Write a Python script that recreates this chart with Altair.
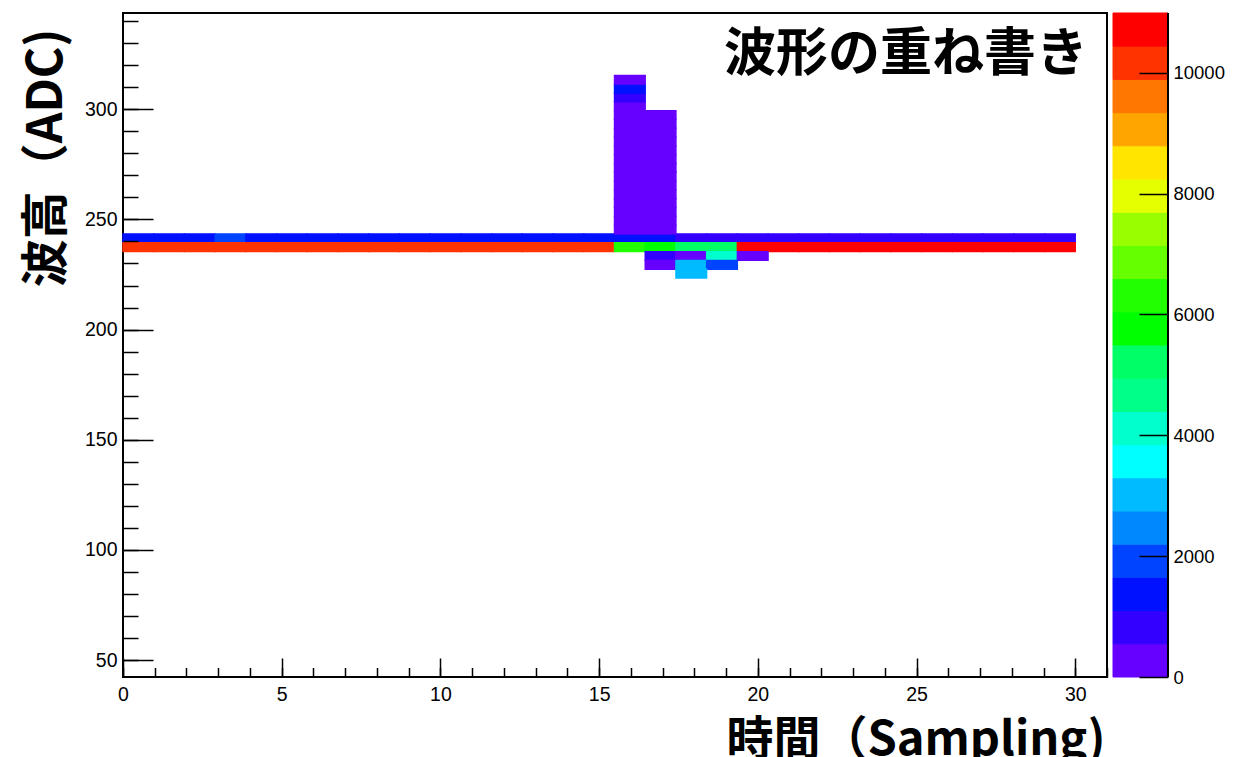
import altair as alt
import pandas as pd

# ---- histogram binning ----
X_BINS = 31
X_LO, X_HI = 0.0, 30.0
Y_BIN_W = 4.0
Z_MAX = 10990
X_DOMAIN = [0, 31]
Y_DOMAIN = [42.3, 343.7]

# ROOT rainbow palette, low -> high (20 contour levels)
PALETTE = ["#6600ff", "#3300ff", "#0011ff", "#0044ff", "#0088ff", "#00bbff",
           "#00ffff", "#00ffcc", "#00ff88", "#00ff66", "#00ff00", "#22ff00",
           "#66ff00", "#99ff00", "#e5ff00", "#ffe500", "#ffa500", "#ff7700",
           "#ff3300", "#ff0000"]

# ---- full-width baseline rows: lower y edge and contents per x bin ----
ROW_YLOW = [239.4, 235.4]
ROW_UPPER = [1400, 1400, 1400, 1900, 1400, 1400, 1400, 1400, 1400, 1400, 1400,
             1400, 1400, 1400, 1400, 1400, 1400, 1400, 800, 800, 800, 800,
             800, 800, 800, 800, 800, 800, 800, 800, 800]
ROW_LOWER = [10200, 10200, 10200, 10200, 10200, 10200, 10200, 10200, 10200,
             10200, 10200, 10200, 10200, 10200, 10200, 10200, 6300, 5800,
             5200, 5200, 10700, 10700, 10700, 10700, 10700, 10700, 10700,
             10700, 10700, 10700, 10700]

# ---- pulse region: x bin, lower y edge, content ----
PULSE_XBIN = [16] * 18 + [17] * 14 + [17, 18, 19, 20, 17, 18, 19, 18]
PULSE_YLOW = [243.4, 247.4, 251.4, 255.4, 259.4, 263.4, 267.4, 271.4, 275.4,
              279.4, 283.4, 287.4, 291.4, 295.4, 299.4, 303.4, 307.4, 311.4,
              243.4, 247.4, 251.4, 255.4, 259.4, 263.4, 267.4, 271.4, 275.4,
              279.4, 283.4, 287.4, 291.4, 295.4,
              231.4, 231.4, 231.4, 231.4, 227.4, 227.4, 227.4, 223.4]
PULSE_Z = [320, 310, 300, 290, 300, 310, 300, 290, 300, 310, 300, 290, 300,
           310, 300, 800, 1400, 300,
           300, 310, 290, 300, 310, 300, 290, 300, 310, 300, 290, 300, 310, 300,
           800, 300, 4100, 300, 300, 3000, 1900, 3000]

X_MAJOR = [0, 5, 10, 15, 20, 25, 30]
X_MINOR = list(range(0, 32))
Y_MAJOR = [50, 100, 150, 200, 250, 300]
Y_MINOR = list(range(50, 341, 10))
Z_TICKS = [0, 2000, 4000, 6000, 8000, 10000]

TITLE = "波形の重ね書き"
X_TITLE = "時間（Sampling)"
Y_TITLE = "波高（ADC)"

# ---- build tables ----
bw = (X_HI - X_LO) / X_BINS
recs = []
for ylow, row in zip(ROW_YLOW, [ROW_UPPER, ROW_LOWER]):
    for i, z in enumerate(row):
        recs.append((i, ylow, z))
for i, ylow, z in zip(PULSE_XBIN, PULSE_YLOW, PULSE_Z):
    recs.append((i, ylow, z))
cells = pd.DataFrame(recs, columns=["bin", "y0", "z"])
cells["x0"] = X_LO + cells["bin"] * bw
cells["x1"] = cells["x0"] + bw
cells["y1"] = cells["y0"] + Y_BIN_W

n = len(PALETTE)
cbar = pd.DataFrame({
    "lo": [Z_MAX * k / n for k in range(n)],
    "hi": [Z_MAX * (k + 1) / n for k in range(n)],
})
cbar["z"] = (cbar["lo"] + cbar["hi"]) / 2

LABEL_FONT = "Liberation Sans"
CJK = "Noto Sans CJK JP"

color_scale = alt.Scale(type="quantize", domain=[0, Z_MAX], range=PALETTE, nice=False)
xs = alt.Scale(domain=X_DOMAIN, nice=False, zero=False)
ys = alt.Scale(domain=Y_DOMAIN, nice=False, zero=False)

common_axis = dict(domain=False, grid=False, tickColor="black", tickWidth=1.5,
                   labelColor="black", titleColor="black", zindex=1)

heat = alt.Chart(cells).mark_rect(strokeWidth=1.4).encode(
    x=alt.X("x0:Q", scale=xs, axis=alt.Axis(
        orient="bottom", values=X_MAJOR, tickSize=19, offset=-19,
        labelFont=LABEL_FONT, labelFontSize=19.5, labelPadding=8,
        labelFlush=False, labelOverlap=False, format="d",
        title=X_TITLE, titleFont=CJK, titleFontSize=47, titleFontWeight="bold",
        titleX=982, titleY=96, titleAlign="right", titleBaseline="alphabetic",
        titleAnchor="end", **common_axis)),
    x2="x1:Q",
    y=alt.Y("y0:Q", scale=ys, axis=alt.Axis(
        orient="left", values=Y_MAJOR, tickSize=30, offset=-30,
        labelFont=LABEL_FONT, labelFontSize=19.5, labelPadding=6,
        labelOverlap=False, format="d",
        title=Y_TITLE, titleFont=CJK, titleFontSize=48, titleFontWeight="bold",
        titleX=-106, titleY=144.5, titleAngle=270, titleAlign="center",
        titleBaseline="middle", **common_axis)),
    y2="y1:Q",
    color=alt.Color("z:Q", scale=color_scale, legend=None),
    stroke=alt.Stroke("z:Q", scale=color_scale, legend=None),
)

minor = alt.Chart(cells).mark_rect(opacity=0).encode(
    x=alt.X("x0:Q", scale=xs, axis=alt.Axis(
        orient="bottom", values=X_MINOR, tickSize=9.5, offset=-9.5,
        labels=False, title=None, **common_axis)),
    y=alt.Y("y0:Q", scale=ys, axis=alt.Axis(
        orient="left", values=Y_MINOR, tickSize=15, offset=-15,
        labels=False, title=None, **common_axis)),
)

bar = alt.Chart(cbar).mark_rect(strokeWidth=1).encode(
    x=alt.value(990), x2=alt.value(1045),
    y=alt.Y("lo:Q", scale=alt.Scale(domain=[0, Z_MAX], nice=False, zero=False),
            axis=alt.Axis(orient="right", values=Z_TICKS, tickSize=29, offset=32,
                          labelFont=LABEL_FONT, labelFontSize=18.5,
                          labelPadding=5, labelOverlap=False, format="d",
                          title=None, **common_axis)),
    y2="hi:Q",
    color=alt.Color("z:Q", scale=color_scale, legend=None),
    stroke=alt.Stroke("z:Q", scale=color_scale, legend=None),
)

edge = alt.Chart(pd.DataFrame({"a": [0]})).mark_rule(color="black", strokeWidth=2).encode(
    x=alt.value(1045), y=alt.value(0), y2=alt.value(664))

title = alt.Chart(pd.DataFrame({"t": [TITLE]})).mark_text(
    align="right", baseline="alphabetic", font=CJK, fontSize=52,
    fontWeight="bold", color="black").encode(
    x=alt.value(965), y=alt.value(58), text="t:N")

chart = alt.layer(heat, minor, bar, edge, title).resolve_scale(
    x="independent", y="independent"
).properties(
    width=984, height=664,
    padding={"left": 115, "top": 5, "right": 118, "bottom": 80},
    autosize=alt.AutoSizeParams(type="none"),
    background="white",
).configure_view(stroke="black", strokeWidth=2)

chart.save("out.html", embed_options={"renderer": "svg", "actions": False})
